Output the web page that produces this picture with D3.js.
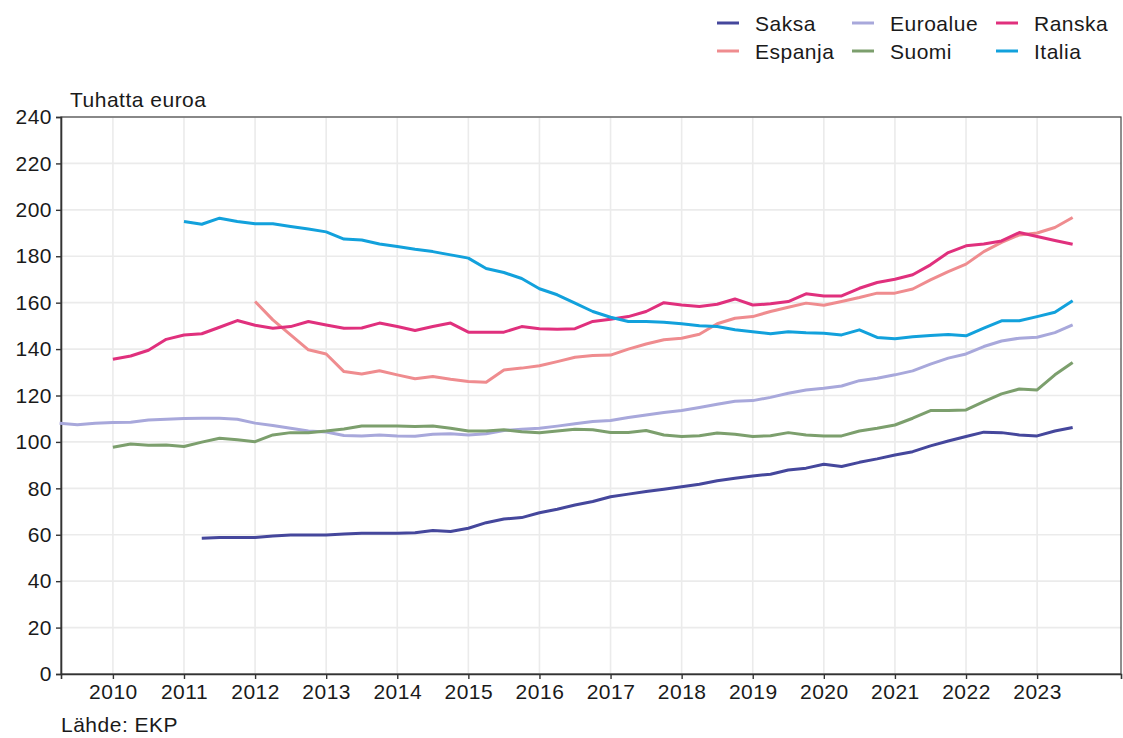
<!DOCTYPE html>
<html>
<head>
<meta charset="utf-8">
<script src="https://cdn.jsdelivr.net/npm/d3@7"></script>
<style>
  body { margin: 0; background: #fff; }
  text { font-family: "Liberation Sans", Arial, sans-serif; fill: #1a1a1a; letter-spacing: 0.5px; }
</style>
</head>
<body>
<svg id="chart" width="1123" height="738"></svg>
<script>

// quarterly values, thousand euro; first quarter of each series given in seriesStart
const saksa = [58.5, 58.8, 58.8,
  58.8, 59.5, 59.9, 59.9, 59.9, 60.3, 60.6, 60.6, 60.6, 60.9, 61.8, 61.4,
  62.8, 65.2, 66.8, 67.4, 69.5, 71.0, 72.8, 74.3, 76.4, 77.5, 78.6, 79.6,
  80.7, 81.8, 83.3, 84.3, 85.3, 86.1, 87.9, 88.7, 90.4, 89.4, 91.2, 92.7,
  94.4, 95.8, 98.3, 100.4, 102.3, 104.2, 104.0, 103.0, 102.6, 104.7, 106.2];

const euroalue = [108.0, 107.4, 108.0,
  108.4, 108.5, 109.4, 109.8, 110.1, 110.2, 110.2, 109.8, 108.1, 107.1, 105.9, 104.7,
  104.3, 102.8, 102.6, 103.0, 102.6, 102.4, 103.3, 103.5, 103.0, 103.5, 104.9, 105.5,
  105.9, 106.8, 107.8, 108.8, 109.2, 110.5, 111.6, 112.7, 113.5, 114.8, 116.2, 117.5,
  117.8, 119.2, 121.0, 122.4, 123.1, 124.1, 126.4, 127.4, 128.9, 130.6, 133.5, 136.1,
  137.9, 141.1, 143.5, 144.7, 145.1, 147.1, 150.4];

const ranska = [135.6, 137.0, 139.5, 144.2, 146.1, 146.6, 149.4, 152.3,
  150.3, 149.0, 149.7, 151.9, 150.4, 149.0, 149.1, 151.2, 149.7, 148.0, 149.7, 151.2,
  147.3, 147.3, 147.3, 149.7, 148.8, 148.5, 148.8, 151.9, 152.9, 154.0, 156.2, 160.0,
  159.0, 158.3, 159.3, 161.6, 159.0, 159.5, 160.5, 163.8, 162.9, 162.9, 166.2, 168.7,
  170.1, 172.0, 176.3, 181.6, 184.5, 185.3, 186.6, 190.2, 188.5, 186.8, 185.2];

const espanja = [160.5, 152.6, 146.1, 139.7, 137.9, 130.3, 129.3, 130.7,
  128.9, 127.2, 128.2, 127.0, 126.0, 125.7, 131.0, 131.8, 132.8, 134.6, 136.5, 137.2,
  137.4, 140.0, 142.2, 144.0, 144.7, 146.4, 150.9, 153.3, 154.0, 156.2, 158.0, 159.8,
  158.9, 160.5, 162.2, 164.1, 164.1, 165.9, 169.8, 173.4, 176.6, 182.0, 186.0, 189.2,
  190.0, 192.4, 196.7];

const suomi = [97.7, 99.1, 98.6, 98.7, 98.0, 99.9, 101.6, 100.9,
  100.1, 103.0, 104.0, 104.0, 104.7, 105.6, 106.9, 106.9, 106.9, 106.6, 106.9, 105.9,
  104.7, 104.7, 105.2, 104.4, 104.0, 104.7, 105.5, 105.2, 104.1, 104.1, 104.9, 103.0,
  102.3, 102.7, 103.8, 103.3, 102.3, 102.7, 104.0, 103.0, 102.6, 102.6, 104.7, 105.9,
  107.3, 110.2, 113.5, 113.5, 113.8, 117.4, 120.7, 122.8, 122.4, 128.9, 134.2];

const italia = [195.0, 193.8, 196.4, 195.0, 194.0, 194.0, 192.8, 191.7,
  190.5, 187.4, 187.0, 185.3, 184.2, 183.0, 182.0, 180.6, 179.2, 174.7, 173.0, 170.4,
  166.0, 163.4, 159.8, 156.2, 153.7, 151.9, 151.9, 151.6, 150.9, 150.1, 149.7, 148.3,
  147.5, 146.6, 147.5, 147.0, 146.8, 146.1, 148.3, 145.0, 144.5, 145.3, 145.9, 146.3,
  145.7, 149.0, 152.2, 152.2, 154.0, 155.9, 160.8];

const seriesNames = ["Saksa", "Espanja", "Euroalue", "Suomi", "Ranska", "Italia"];
const seriesValues = [saksa, espanja, euroalue, suomi, ranska, italia];
const seriesStart = [2011.25, 2012, 2009.25, 2010, 2010, 2011];
const seriesColors = ["#45479c", "#ef8c8f", "#a8a8db", "#7c9f6d", "#e0307d", "#12a1dc"];

const legendOrder = ["Saksa", "Euroalue", "Ranska", "Espanja", "Suomi", "Italia"];
const yearTicks = d3.range(2010, 2024);
const valueTicks = d3.range(0, 241, 20);


const svg = d3.select("#chart");
const margin = {left: 61, right: 1121, top: 117, bottom: 674};

const x = d3.scaleLinear().domain([2009.27, 2024.18]).range([margin.left, margin.right]);
const y = d3.scaleLinear().domain([0, 240]).range([margin.bottom, margin.top]);

// grid
svg.append("g")
  .selectAll("line.h")
  .data(valueTicks)
  .enter()
  .append("line")
    .attr("x1", margin.left).attr("x2", margin.right)
    .attr("y1", (d) => y(d)).attr("y2", (d) => y(d))
    .style("stroke", "#ebebeb")
    .style("stroke-width", 1.6);

svg.append("g")
  .selectAll("line.v")
  .data(yearTicks)
  .enter()
  .append("line")
    .attr("x1", (d) => x(d)).attr("x2", (d) => x(d))
    .attr("y1", margin.top).attr("y2", margin.bottom)
    .style("stroke", "#ebebeb")
    .style("stroke-width", 1.6);

// panel border
svg.append("rect")
  .attr("x", margin.left).attr("y", margin.top)
  .attr("width", margin.right - margin.left)
  .attr("height", margin.bottom - margin.top)
  .style("fill", "none")
  .style("stroke", "#444")
  .style("stroke-width", 1.2);

// axes
const yAxis = svg.append("g")
  .attr("transform", `translate(${margin.left},0)`)
  .call(d3.axisLeft(y).tickValues(valueTicks).tickSize(5).tickPadding(4));

const xAxis = svg.append("g")
  .attr("transform", `translate(0,${margin.bottom})`)
  .call(d3.axisBottom(x).tickValues(yearTicks).tickFormat(d3.format("d")).tickSize(5).tickPadding(5));

[yAxis, xAxis].forEach((g) => {
  g.select(".domain").style("stroke", "#333").style("stroke-width", 1.6);
  g.selectAll(".tick line").style("stroke", "#333").style("stroke-width", 1.4);
  g.selectAll(".tick text")
    .style("font-family", '"Liberation Sans", Arial, sans-serif')
    .style("font-size", "21px")
    .style("letter-spacing", "0.5px")
    .style("fill", "#1a1a1a");
});

// lines
const line = d3.line()
  .x((d) => x(d.t))
  .y((d) => y(d.v));

seriesNames.forEach((name, i) => {
  const pts = seriesValues[i].map((v, k) => ({t: seriesStart[i] + k / 4, v: v}));
  svg.append("path")
    .datum(pts)
    .attr("d", line)
    .style("fill", "none")
    .style("stroke", seriesColors[i])
    .style("stroke-width", 3)
    .style("stroke-linejoin", "round");
});

// titles
svg.append("text")
  .attr("x", 70).attr("y", 107)
  .style("font-size", "21px")
  .text("Tuhatta euroa");

svg.append("text")
  .attr("x", 61).attr("y", 732)
  .style("font-size", "21px")
  .text("Lähde: EKP");

// legend
const legendCols = [717, 852, 996];
const legendRows = [23, 51];

const legend = svg.append("g")
  .selectAll("g.leg")
  .data(legendOrder)
  .enter()
  .append("g")
    .attr("class", "leg")
    .attr("transform", (d, i) => `translate(${legendCols[i % 3]},${legendRows[Math.floor(i / 3)]})`);

legend.append("line")
  .attr("x1", 0).attr("x2", 22)
  .style("stroke", (d) => seriesColors[seriesNames.indexOf(d)])
  .style("stroke-width", 3);

legend.append("text")
  .attr("x", 38).attr("y", 7.5)
  .style("font-size", "21px")
  .text((d) => d);

</script>
</body>
</html>
